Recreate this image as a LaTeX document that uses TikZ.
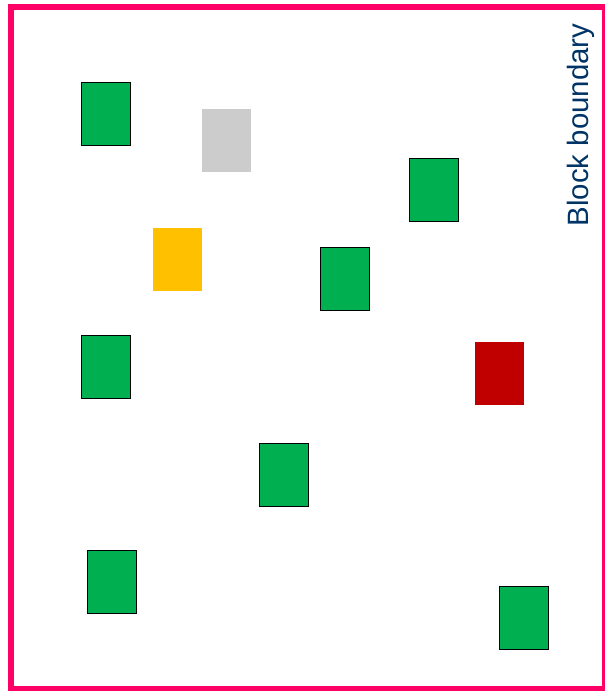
\documentclass[tikz,border=0pt]{standalone}
\usepackage{fontspec}
\setmainfont{Liberation Sans}
\definecolor{boxgreen}{HTML}{00B050}
\definecolor{boxgray}{HTML}{CCCCCC}
\definecolor{boxyellow}{HTML}{FFC000}
\definecolor{boxred}{HTML}{C00000}
\definecolor{framepink}{HTML}{FF0066}
\definecolor{labelblue}{HTML}{003366}
\begin{document}
\begin{tikzpicture}[x=1pt,y=-1pt,
  blockbox/.style={rectangle,minimum width=49pt,minimum height=63pt,inner sep=0pt},
  okbox/.style={blockbox,fill=boxgreen,draw=black,line width=1pt},
  graybox/.style={blockbox,fill=boxgray},
  yellowbox/.style={blockbox,fill=boxyellow},
  redbox/.style={blockbox,fill=boxred},
  frameline/.style={draw=framepink,line width=6pt}]
\useasboundingbox (0,0) rectangle (605,691);
\draw[frameline] (11,6.5) rectangle (605,688.5);
\node[rotate=90,anchor=base,text=labelblue,font=\fontsize{29.4}{31}\selectfont] (lbl) at (588,125) {Block boundary};
\node[okbox] (g1) at (105.5,114) {};
\node[graybox] (gr) at (226.5,140.5) {};
\node[okbox] (g2) at (434,189.5) {};
\node[yellowbox] (ye) at (177.5,259.5) {};
\node[okbox] (g3) at (344.5,278.5) {};
\node[okbox] (g4) at (105.5,367) {};
\node[redbox] (rd) at (499.5,373.5) {};
\node[okbox] (g5) at (284,475) {};
\node[okbox] (g6) at (111.5,582) {};
\node[okbox] (g7) at (524,618) {};
\end{tikzpicture}
\end{document}
